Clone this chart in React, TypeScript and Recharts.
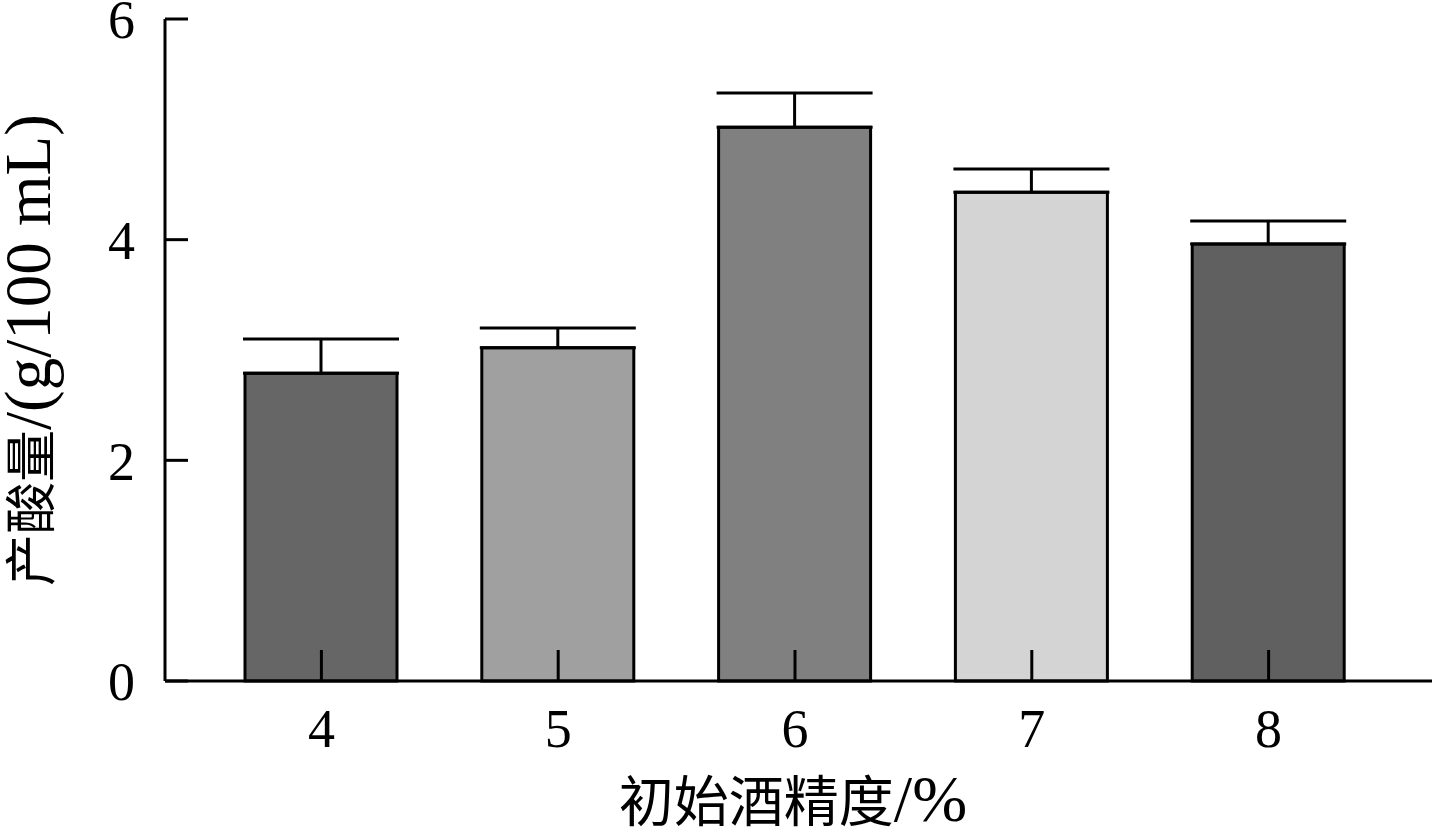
import React from "react";
import { Bar, BarChart, Cell, ErrorBar, Label, XAxis, YAxis } from "recharts";

const categories = ["4", "5", "6", "7", "8"];
const acidValues = [2.79, 3.02, 5.02, 4.43, 3.96];
const acidErrors = [0.31, 0.18, 0.31, 0.21, 0.21];
const barColors = ["#666666", "#a0a0a0", "#808080", "#d4d4d4", "#606060"];
const yTicks = [0, 2, 4, 6];

const data = categories.map((c, i) => ({
  name: c,
  acid: acidValues[i],
  err: [0, acidErrors[i]]
}));

const latin = "'Liberation Serif', 'Times New Roman', serif";
const cjk = "'Noto Sans CJK SC', sans-serif";

function XTick(props: any) {
  return (
    <text x={props.x} y={props.y} dy="0.71em" textAnchor="middle" fill="#000" fontFamily={latin} fontSize={54}>
      {props.payload.value}
    </text>
  );
}

function YTick(props: any) {
  return (
    <text x={props.x} y={props.y} dy="0.355em" textAnchor="end" fill="#000" fontFamily={latin} fontSize={54}>
      {props.payload.value}
    </text>
  );
}

function YTitle() {
  return (
    <text x={50} y={350} transform="rotate(-90 50 350)" textAnchor="middle" fill="#000">
      <tspan fontFamily={cjk} fontSize={52}>产酸量</tspan>
      <tspan fontFamily={latin} fontSize={65}>/(g/100 mL)</tspan>
    </text>
  );
}

function XTitle() {
  return (
    <text x={793} y={821} textAnchor="middle" fill="#000">
      <tspan fontFamily={cjk} fontSize={55}>初始酒精度</tspan>
      <tspan fontFamily={latin} fontSize={66}>/%</tspan>
    </text>
  );
}

export default function App() {
  return (
    <div style={{ position: "absolute", left: 0, top: 0, background: "#fff" }}>
      <BarChart
        width={1432}
        height={834}
        data={data}
        margin={{ top: 19, right: 0, bottom: 0, left: 0 }}
        barCategoryGap={0}
      >
        <Bar dataKey="acid" barSize={152} stroke="#000" strokeWidth={3} isAnimationActive={false}>
          {data.map((d, i) => (
            <Cell key={d.name} fill={barColors[i]} />
          ))}
          <ErrorBar dataKey="err" direction="y" width={78} stroke="#000" strokeWidth={3} isAnimationActive={false} />
        </Bar>
        <XAxis
          dataKey="name"
          height={153}
          padding={{ left: 38, right: 45 }}
          axisLine={{ stroke: "#000", strokeWidth: 3 }}
          tickLine={{ stroke: "#000", strokeWidth: 3 }}
          tickSize={-31}
          tickMargin={59}
          tick={XTick}
        >
          <Label content={() => <XTitle />} />
        </XAxis>
        <YAxis
          width={165}
          domain={[0, 6]}
          ticks={yTicks}
          axisLine={{ stroke: "#000", strokeWidth: 3 }}
          tickLine={{ stroke: "#000", strokeWidth: 3 }}
          tickSize={-23}
          tickMargin={53}
          tick={YTick}
        >
          <Label content={() => <YTitle />} />
        </YAxis>
      </BarChart>
    </div>
  );
}
